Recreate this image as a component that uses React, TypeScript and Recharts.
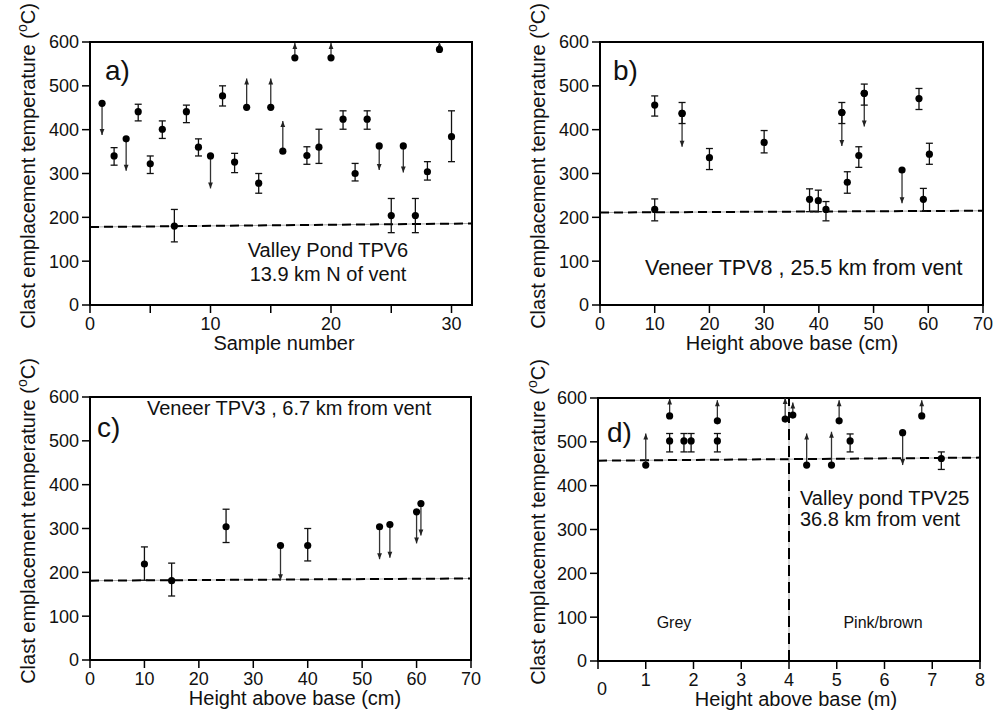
import React from 'react';
import { ScatterChart, Scatter, XAxis, YAxis, ErrorBar, ReferenceLine, ReferenceArea } from 'recharts';

const FONT = '"Liberation Sans", Arial, Helvetica, sans-serif';

// ---------- data ----------
// error-bar points: [x, temperature, lower bound, upper bound]
// limit points: [x, temperature, arrow tip]
const yTicks = [0, 100, 200, 300, 400, 500, 600];

// a) Valley Pond TPV6 (sample number)
const aErrorPoints: number[][] = [
  [2, 340, 319, 359], [4, 441, 420, 458], [5, 322, 300, 340], [6, 401, 380, 420],
  [7, 180, 144, 218], [8, 441, 416, 456], [9, 360, 340, 379], [11, 477, 454, 500],
  [12, 326, 302, 346], [14, 278, 255, 300], [18, 341, 321, 361], [19, 360, 323, 401],
  [21, 424, 401, 443], [22, 300, 283, 323], [23, 424, 401, 443], [25, 204, 165, 243],
  [27, 204, 165, 243], [28, 304, 285, 327], [30, 384, 327, 443],
];
const aLimitPoints: number[][] = [
  [1, 460, 388], [3, 379, 306], [10, 340, 266], [13, 451, 517], [15, 451, 517],
  [16, 351, 420], [17, 564, 598], [20, 564, 598], [24, 363, 308], [26, 363, 302],
  [29, 583, 600],
];
const aCutoff: number[][] = [[0, 178], [31.7, 186]];
const aXDomain = [0, 31.7];
const aXTicks = [0, 5, 10, 15, 20, 25, 30];

// b) Veneer TPV8 (height, cm)
const bErrorPoints: number[][] = [
  [10, 456, 431, 477], [10, 218, 192, 242], [15, 437, 414, 462], [20, 336, 309, 357],
  [30, 371, 347, 398], [38.3, 241, 213, 265], [39.9, 238, 213, 262], [41.3, 218, 192, 236],
  [44.2, 439, 414, 462], [45.2, 280, 255, 304], [47.3, 341, 314, 361], [48.3, 483, 456, 504],
  [58.3, 471, 446, 494], [59.1, 241, 214, 266], [60.2, 344, 321, 369],
];
const bLimitPoints: number[][] = [
  [15, 437, 361], [44.2, 439, 363], [48.3, 483, 407], [55.2, 308, 232],
];
const bCutoff: number[][] = [[0, 211], [70, 215]];

// c) Veneer TPV3 (height, cm)
const cErrorPoints: number[][] = [
  [10, 219, 182, 258], [15, 181, 146, 221], [25, 304, 268, 344], [40, 261, 226, 300],
];
const cLimitPoints: number[][] = [
  [35, 261, 182], [53.2, 304, 230], [55.1, 309, 233], [60.0, 338, 266], [60.8, 357, 284],
];
const cCutoff: number[][] = [[0, 181], [70, 186]];

const cmXDomain = [0, 70];
const cmXTicks = [0, 10, 20, 30, 40, 50, 60, 70];

// d) Valley pond TPV25 (height, m)
const dErrorPoints: number[][] = [
  [1.5, 502, 477, 519], [1.8, 502, 477, 519], [1.95, 502, 477, 519], [2.5, 502, 477, 519],
  [5.28, 502, 477, 518], [7.19, 462, 437, 477],
];
const dLimitPoints: number[][] = [
  [1, 447, 519], [1.5, 559, 599], [2.5, 548, 595], [3.92, 552, 600], [4.08, 561, 590],
  [4.37, 447, 519], [4.89, 447, 523], [5.05, 548, 595], [6.38, 521, 447], [6.78, 559, 595],
];
const dCutoff: number[][] = [[0, 457], [8, 464]];
const dBoundary = 4;
const dXDomain = [0, 8];
const dXTicks = [0, 1, 2, 3, 4, 5, 6, 7, 8];

// ---------- helpers ----------
const toErr = (pts: number[][]) => pts.map(([x, y, lo, hi]) => ({ x, y, err: [y - lo, hi - y] }));
const toDots = (pts: number[][]) => pts.map(([x, y]) => ({ x, y }));
const toArrows = (pts: number[][]) =>
  pts.map(([x, y, tip]) => ({
    x,
    y: tip,
    dir: tip > y ? 'up' : 'down',
    err: tip > y ? [tip - y, 0] : [0, y - tip],
  }));

const Dot = (p: any) => <circle cx={p.cx} cy={p.cy} r={3.6} fill="#000" />;
const ArrowHead = (p: any) => {
  const { cx, cy, payload } = p;
  const up = payload && payload.dir === 'up';
  const L = 6;
  const W = 2.4;
  const pts = up
    ? `${cx},${cy} ${cx - W},${cy + L} ${cx + W},${cy + L}`
    : `${cx},${cy} ${cx - W},${cy - L} ${cx + W},${cy - L}`;
  return <polygon points={pts} fill="#222" />;
};

const tickStyle = { fontSize: 18, fill: '#111', fontFamily: FONT };

type PanelProps = {
  left: number; top: number; width: number; height: number;
  x0: number; x1: number; y0: number; y1: number;
  xDomain: number[]; xTicks: number[]; xFmt?: (v: number) => string;
  errPts: number[][]; limPts: number[][]; cutoff: number[][];
  vline?: number; lowZero?: boolean;
};

const DTick = (p: any) => {
  const { x, y, payload } = p;
  const isZero = payload.value === 0;
  return (
    <text x={x + (isZero ? 4 : 0)} y={y + (isZero ? 9 : 0)} dy="0.71em" textAnchor="middle" style={tickStyle}>
      {payload.value}
    </text>
  );
};

function Panel(props: PanelProps) {
  const { left, top, width, height, x0, x1, y0, y1, xDomain, xTicks, xFmt, errPts, limPts, cutoff, vline, lowZero } = props;
  const xAxisH = 55;
  const margin = { top: y0 - top, right: left + width - x1, left: 0, bottom: top + height - y1 - xAxisH };
  const errData = toErr(errPts);
  const dotData = toDots(limPts);
  const arrowData = toArrows(limPts);
  return (
    <div style={{ position: 'absolute', left, top, width, height }}>
      <ScatterChart width={width} height={height} margin={margin}>
        <XAxis
          type="number"
          dataKey="x"
          domain={xDomain}
          ticks={xTicks}
          interval={0}
          allowDataOverflow
          height={xAxisH}
          tickSize={8}
          tickMargin={4}
          tickFormatter={xFmt}
          tick={lowZero ? <DTick /> : tickStyle}
          axisLine={{ stroke: '#000', strokeWidth: 2 }}
          tickLine={{ stroke: '#000', strokeWidth: 1.5 }}
        />
        <YAxis
          type="number"
          dataKey="y"
          domain={[0, 600]}
          ticks={yTicks}
          interval={0}
          allowDataOverflow
          width={x0 - left}
          tickSize={8}
          tickMargin={3}
          tick={tickStyle}
          axisLine={{ stroke: '#000', strokeWidth: 2 }}
          tickLine={{ stroke: '#000', strokeWidth: 1.5 }}
        />
        <ReferenceArea x1={xDomain[0]} x2={xDomain[1]} y1={0} y2={600} fill="none" fillOpacity={0} stroke="#000" strokeWidth={2} ifOverflow="visible" />
        <ReferenceLine segment={[{ x: cutoff[0][0], y: cutoff[0][1] }, { x: cutoff[1][0], y: cutoff[1][1] }]} stroke="#aaa" strokeWidth={1} />
        <ReferenceLine segment={[{ x: cutoff[0][0], y: cutoff[0][1] }, { x: cutoff[1][0], y: cutoff[1][1] }]} stroke="#000" strokeWidth={2} strokeDasharray="9 5" />
        {vline !== undefined && <ReferenceLine x={vline} stroke="#aaa" strokeWidth={1} />}
        {vline !== undefined && <ReferenceLine x={vline} stroke="#000" strokeWidth={2} strokeDasharray="11 6" />}
        <Scatter data={arrowData} shape={ArrowHead} isAnimationActive={false}>
          <ErrorBar dataKey="err" direction="y" width={0} stroke="#333" strokeWidth={1.3} isAnimationActive={false} />
        </Scatter>
        <Scatter data={errData} shape={Dot} isAnimationActive={false}>
          <ErrorBar dataKey="err" direction="y" width={3.5} stroke="#111" strokeWidth={1.3} isAnimationActive={false} />
        </Scatter>
        <Scatter data={dotData} shape={Dot} isAnimationActive={false} />
      </ScatterChart>
    </div>
  );
}

const YLabel = ({ x, y }: { x: number; y: number }) => (
  <text transform={`translate(${x},${y}) rotate(-90)`} textAnchor="middle" style={{ fontSize: 20, fontFamily: FONT, fill: '#111' }}>
    Clast emplacement temperature (<tspan dy={-8} fontSize={14}>o</tspan><tspan dy={8}>C)</tspan>
  </text>
);

const txt = { fontFamily: FONT, fill: '#111' };

export default function App() {
  return (
    <div style={{ position: 'absolute', left: 0, top: 0, width: 1007, height: 717, background: '#fff', fontFamily: FONT }}>
      <Panel left={0} top={0} width={500} height={360} x0={90} x1={472} y0={42} y1={305}
        xDomain={aXDomain} xTicks={aXTicks} xFmt={(v: number) => (v % 10 === 0 ? String(v) : '')}
        errPts={aErrorPoints} limPts={aLimitPoints} cutoff={aCutoff} />
      <Panel left={500} top={0} width={507} height={360} x0={600} x1={983} y0={42} y1={305}
        xDomain={cmXDomain} xTicks={cmXTicks}
        errPts={bErrorPoints} limPts={bLimitPoints} cutoff={bCutoff} />
      <Panel left={0} top={360} width={500} height={357} x0={90} x1={471} y0={397} y1={660}
        xDomain={cmXDomain} xTicks={cmXTicks}
        errPts={cErrorPoints} limPts={cLimitPoints} cutoff={cCutoff} />
      <Panel left={500} top={360} width={507} height={357} x0={598} x1={980} y0={398} y1={661}
        xDomain={dXDomain} xTicks={dXTicks} lowZero
        errPts={dErrorPoints} limPts={dLimitPoints} cutoff={dCutoff} vline={dBoundary} />
      <svg width={1007} height={717} style={{ position: 'absolute', left: 0, top: 0, pointerEvents: 'none' }}>
        <YLabel x={35} y={166} />
        <YLabel x={545} y={166} />
        <YLabel x={35} y={521} />
        <YLabel x={545} y={522} />
        <text x={284} y={350} textAnchor="middle" style={{ ...txt, fontSize: 20 }}>Sample number</text>
        <text x={792} y={350} textAnchor="middle" style={{ ...txt, fontSize: 20 }}>Height above base (cm)</text>
        <text x={295} y={705} textAnchor="middle" style={{ ...txt, fontSize: 20 }}>Height above base (cm)</text>
        <text x={796} y={706} textAnchor="middle" style={{ ...txt, fontSize: 20 }}>Height above base (m)</text>
        <text x={105} y={80} style={{ ...txt, fontSize: 28 }}>a)</text>
        <text x={613} y={80} style={{ ...txt, fontSize: 28 }}>b)</text>
        <text x={97} y={437} style={{ ...txt, fontSize: 28 }}>c)</text>
        <text x={607} y={442} style={{ ...txt, fontSize: 28 }}>d)</text>
        <text x={328} y={257} textAnchor="middle" style={{ ...txt, fontSize: 20 }}>Valley Pond TPV6</text>
        <text x={328} y={281} textAnchor="middle" style={{ ...txt, fontSize: 20 }}>13.9 km N of vent</text>
        <text x={645} y={275} style={{ ...txt, fontSize: 21.5 }}>Veneer TPV8 , 25.5 km from vent</text>
        <text x={147} y={415} style={{ ...txt, fontSize: 20 }}>Veneer TPV3 , 6.7 km from vent</text>
        <text x={800} y={505} style={{ ...txt, fontSize: 20 }}>Valley pond TPV25</text>
        <text x={800} y={526} style={{ ...txt, fontSize: 20 }}>36.8 km from vent</text>
        <text x={674} y={628} textAnchor="middle" style={{ ...txt, fontSize: 16 }}>Grey</text>
        <text x={883} y={628} textAnchor="middle" style={{ ...txt, fontSize: 16 }}>Pink/brown</text>
      </svg>
    </div>
  );
}
